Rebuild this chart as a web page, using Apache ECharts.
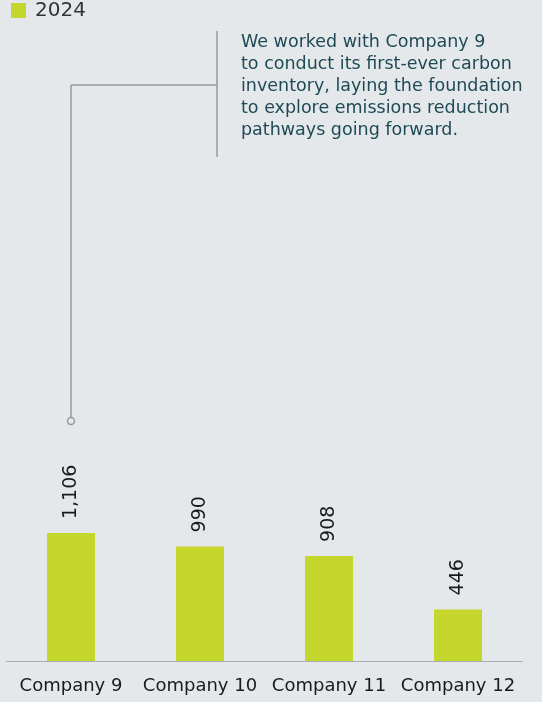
<!DOCTYPE html>
<html><head><meta charset="utf-8">
<script src="https://cdn.jsdelivr.net/npm/echarts@6/dist/echarts.min.js"></script>
<style>html,body{margin:0;padding:0;background:#e5e8eb;}#c{width:542px;height:702px;}</style>
</head><body><div id="c"></div>
<script>
const categories = ['Company 9', 'Company 10', 'Company 11', 'Company 12'];
const values2024 = [1106, 990, 908, 446];
const seriesName = '2024';
const noteLines = [
  'We worked with Company 9',
  'to conduct its first-ever carbon',
  'inventory, laying the foundation',
  'to explore emissions reduction',
  'pathways going forward.'
];
const FONT = '"DejaVu Sans", "Liberation Sans", Arial, sans-serif';
const chart = echarts.init(document.getElementById('c'));
chart.setOption({
  backgroundColor: '#e5e8eb',
  animation: false,
  legend: {
    left: 6, top: -4.5, itemWidth: 15, itemHeight: 15, itemGap: 8,
    icon: 'rect',
    textStyle: { fontFamily: FONT, fontSize: 20, color: '#333', padding: [0, 0, 0, 4] },
    data: [seriesName]
  },
  grid: { left: 6.5, right: 19.5, top: 82.4, bottom: 41 },
  xAxis: {
    type: 'category', data: categories,
    axisLine: { lineStyle: { color: '#a9adb1', width: 1 } },
    axisTick: { show: false },
    axisLabel: { fontFamily: FONT, fontSize: 18, color: '#1a1a1a', margin: 16, interval: 0 }
  },
  yAxis: { type: 'value', min: 0, max: 5000, show: false, splitLine: { show: false } },
  series: [{
    name: seriesName, type: 'bar', data: values2024, barWidth: 48,
    itemStyle: { color: '#c5d62c' },
    label: {
      show: true, position: 'top', rotate: 90, align: 'left', verticalAlign: 'middle',
      distance: 14, fontFamily: FONT, fontSize: 19, color: '#1a1a1a',
      formatter: p => p.value.toLocaleString('en-US')
    }
  }]
});
const px = chart.convertToPixel({ xAxisIndex: 0 }, categories[0]);
const lineStyle = { stroke: '#999', lineWidth: 1.5 };
chart.setOption({
  graphic: [
    { type: 'line', shape: { x1: 217, y1: 31, x2: 217, y2: 157 }, style: lineStyle },
    { type: 'line', shape: { x1: px, y1: 85, x2: 217, y2: 85 }, style: lineStyle },
    { type: 'line', shape: { x1: px, y1: 85, x2: px, y2: 417 }, style: lineStyle },
    { type: 'circle', shape: { cx: px, cy: 421, r: 3.5 }, style: { stroke: '#999', lineWidth: 1.5, fill: '#e5e8eb' } },
    { type: 'text', left: 241, top: 31, style: { text: noteLines.join('\n'), font: '17.5px ' + FONT, fill: '#1e4a55', lineHeight: 22 } }
  ]
});
</script></body></html>
